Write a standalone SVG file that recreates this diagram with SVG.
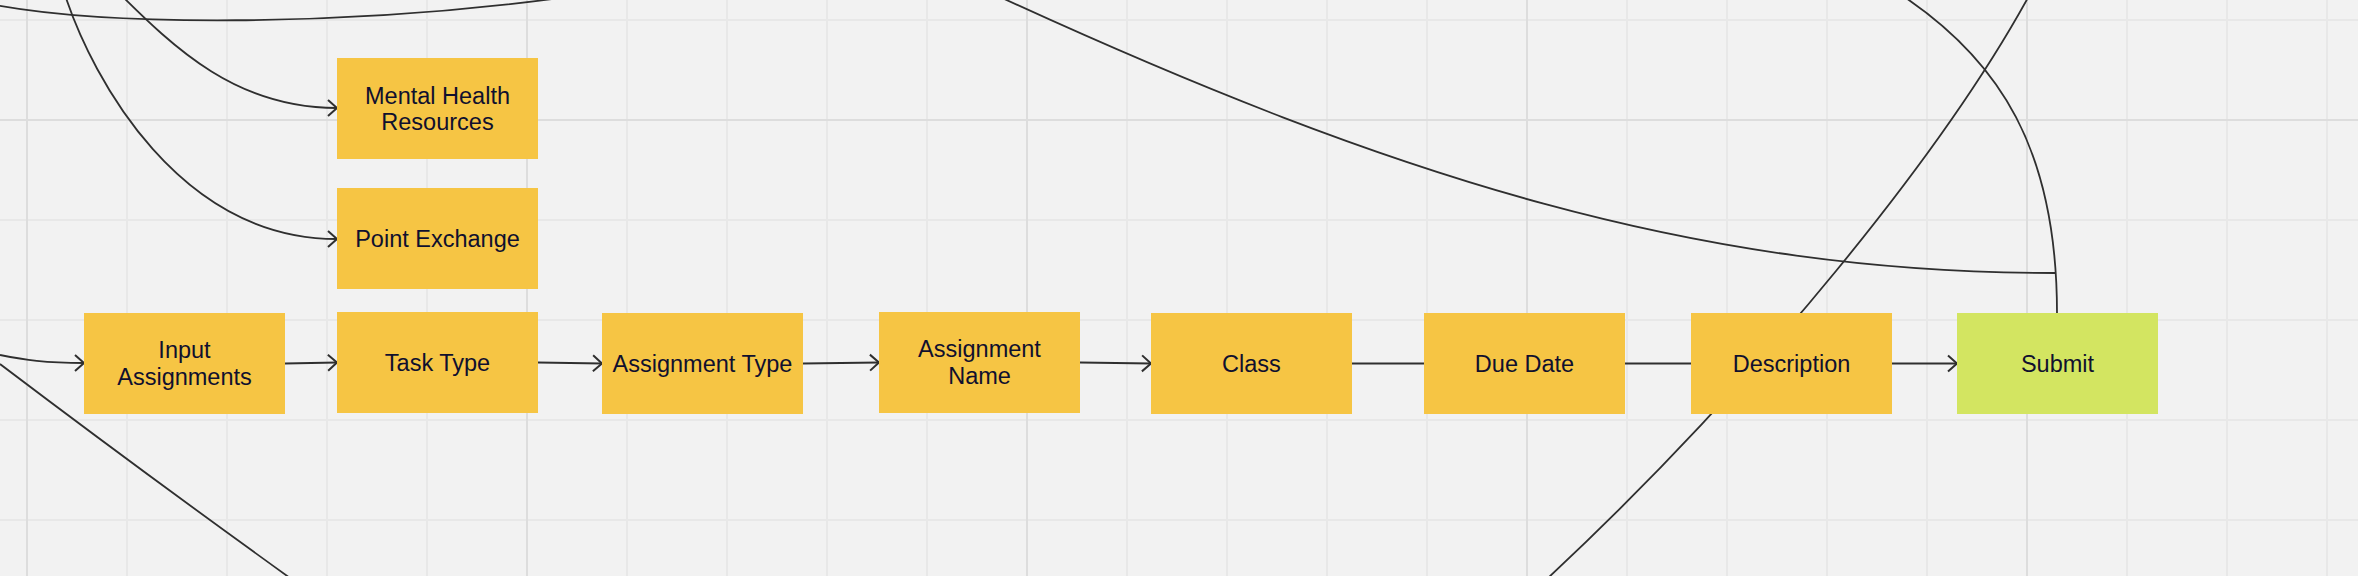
<svg xmlns="http://www.w3.org/2000/svg" width="2358" height="576" viewBox="0 0 2358 576">
  <defs>
    <style>
      .grid-minor { stroke: #e8e8e8; stroke-width: 2; fill: none; }
      .grid-major { stroke: #dddddd; stroke-width: 2; fill: none; }
      .conn { stroke: #2f2f2f; stroke-width: 1.8; fill: none; }
      .node rect { fill: #f6c544; }
      .node.green rect { fill: #d3e561; }
      .node text { font-family: "Liberation Sans", Arial, sans-serif; font-size: 23.5px; fill: #10102e; text-anchor: middle; }
    </style>
    <marker id="arrow" markerUnits="userSpaceOnUse" viewBox="-11 -10 13 20" markerWidth="13" markerHeight="20" refX="0" refY="0" orient="auto" overflow="visible">
      <path d="M -9,-8 L 0,0 L -9,8" fill="none" stroke="#2f2f2f" stroke-width="2"/>
    </marker>
  </defs>

  <rect x="0" y="0" width="2358" height="576" fill="#f2f2f2"/>

  <g id="grid">
    <path class="grid-minor" d="M127,0V576 M227,0V576 M327,0V576 M427,0V576 M627,0V576 M727,0V576 M827,0V576 M927,0V576 M1127,0V576 M1227,0V576 M1327,0V576 M1427,0V576 M1627,0V576 M1727,0V576 M1827,0V576 M1927,0V576 M2127,0V576 M2227,0V576 M2327,0V576 M0,20H2358 M0,220H2358 M0,320H2358 M0,420H2358 M0,520H2358"/>
    <path class="grid-major" d="M27,0V576 M527,0V576 M1027,0V576 M1527,0V576 M2027,0V576 M0,120H2358"/>
  </g>

  <g id="connectors">
    <path class="conn" d="M -20,2 C 100,28 350,26 560,-2"/>
    <path class="conn" d="M 0,364 Q 140,470 290,578"/>
    <path class="conn" d="M 2030,-6 C 1945,150 1760,380 1548,578"/>
    <path class="conn" d="M 1000,-3 C 1398,180 1700,273 2055,273"/>
    <path class="conn" d="M 1900,-6 C 2000,60 2057,150 2057,313"/>
    <path class="conn" d="M 116,-10 C 176,50 237,108 337,108" marker-end="url(#arrow)"/>
    <path class="conn" d="M 65,-5 C 93,80 180,239 337,239" marker-end="url(#arrow)"/>
    <path class="conn" d="M 0,355 C 25,360 45,363 84,363" marker-end="url(#arrow)"/>
    <path class="conn" d="M 285,363.5 L 337,362.5" marker-end="url(#arrow)"/>
    <path class="conn" d="M 538,362.5 L 602,363.5" marker-end="url(#arrow)"/>
    <path class="conn" d="M 803,363.5 L 879,362.5" marker-end="url(#arrow)"/>
    <path class="conn" d="M 1080,362.5 L 1151,363.5" marker-end="url(#arrow)"/>
    <path class="conn" d="M 1352,363.5 L 1424,363.5"/>
    <path class="conn" d="M 1625,363.5 L 1691,363.5"/>
    <path class="conn" d="M 1892,363.5 L 1957,363.5" marker-end="url(#arrow)"/>
  </g>

  <g id="mental-health-resources" class="node">
    <rect x="337" y="58" width="201" height="101"/>
    <text x="437.5" y="103.5">Mental Health</text>
    <text x="437.5" y="130">Resources</text>
  </g>
  <g id="point-exchange" class="node">
    <rect x="337" y="188" width="201" height="101"/>
    <text x="437.5" y="247">Point Exchange</text>
  </g>
  <g id="input-assignments" class="node">
    <rect x="84" y="313" width="201" height="101"/>
    <text x="184.5" y="358">Input</text>
    <text x="184.5" y="385">Assignments</text>
  </g>
  <g id="task-type" class="node">
    <rect x="337" y="312" width="201" height="101"/>
    <text x="437.5" y="371">Task Type</text>
  </g>
  <g id="assignment-type" class="node">
    <rect x="602" y="313" width="201" height="101"/>
    <text x="702.5" y="372">Assignment Type</text>
  </g>
  <g id="assignment-name" class="node">
    <rect x="879" y="312" width="201" height="101"/>
    <text x="979.5" y="357">Assignment</text>
    <text x="979.5" y="384">Name</text>
  </g>
  <g id="class" class="node">
    <rect x="1151" y="313" width="201" height="101"/>
    <text x="1251.5" y="372">Class</text>
  </g>
  <g id="due-date" class="node">
    <rect x="1424" y="313" width="201" height="101"/>
    <text x="1524.5" y="372">Due Date</text>
  </g>
  <g id="description" class="node">
    <rect x="1691" y="313" width="201" height="101"/>
    <text x="1791.5" y="372">Description</text>
  </g>
  <g id="submit" class="node green">
    <rect x="1957" y="313" width="201" height="101"/>
    <text x="2057.5" y="372">Submit</text>
  </g>
</svg>
